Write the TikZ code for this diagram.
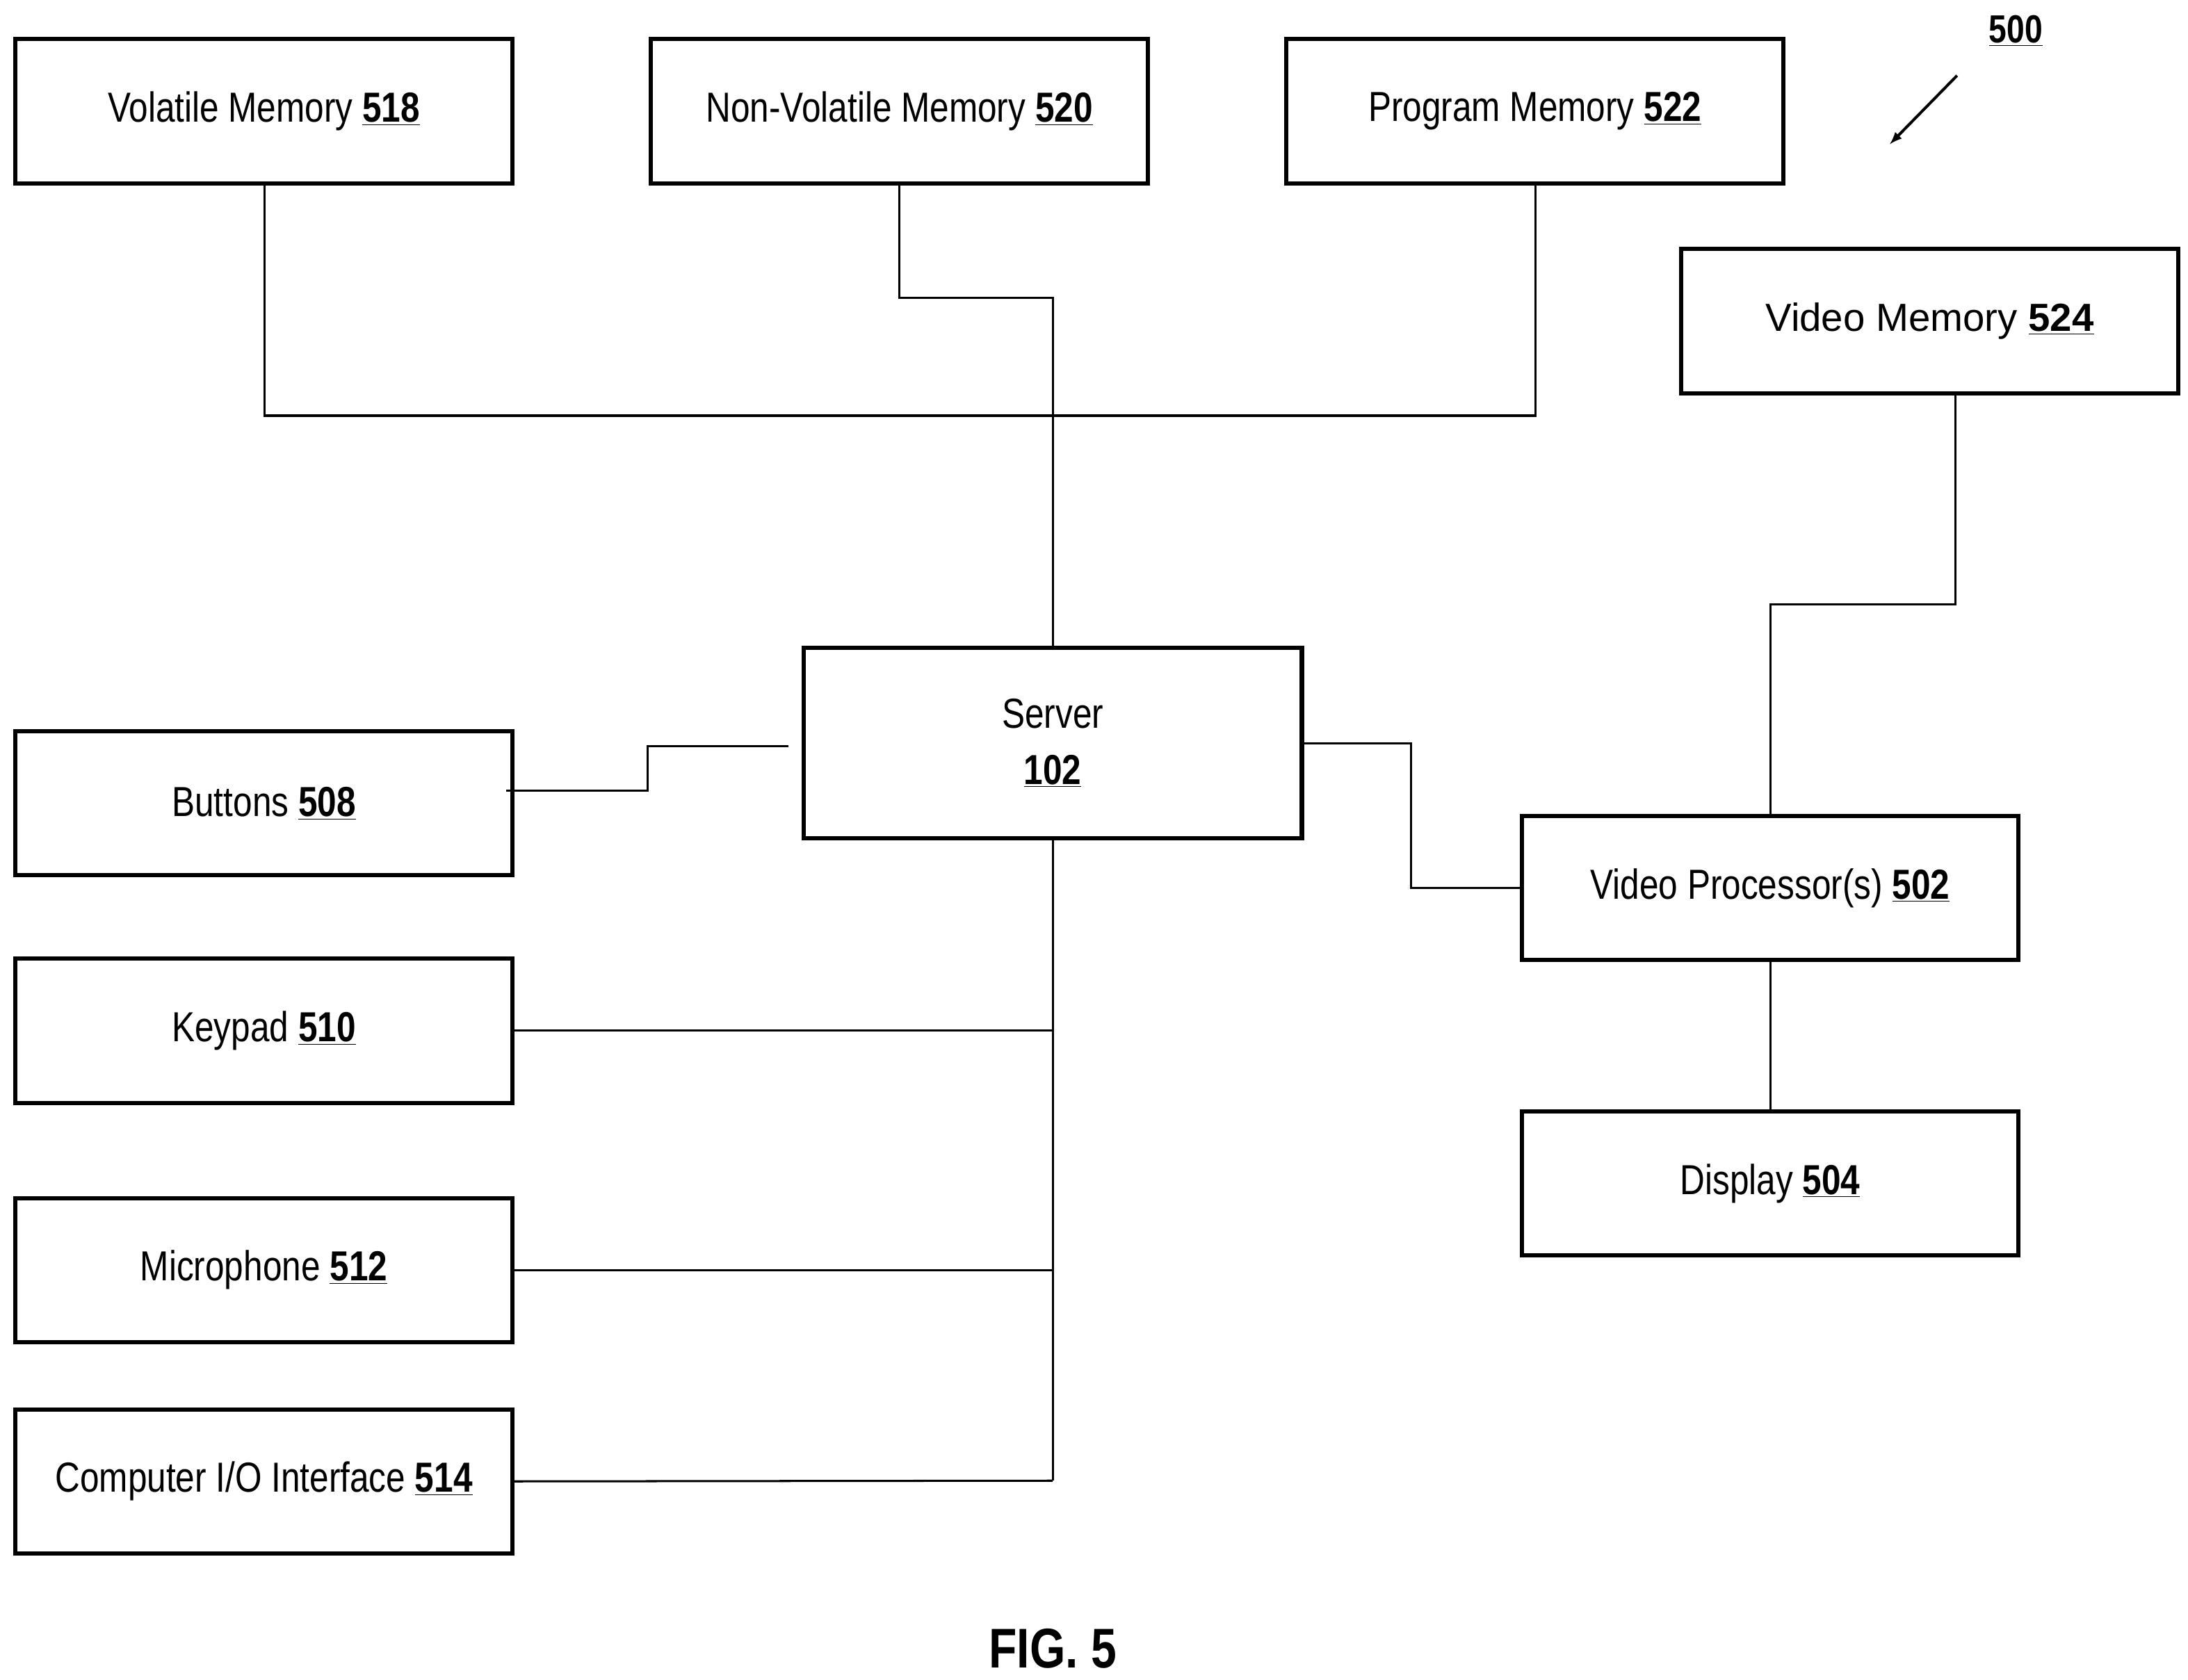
\documentclass[tikz,border=0pt]{standalone}
\usepackage{fontspec}
\setmainfont{Liberation Sans}
\begin{document}
\newcommand{\nr}[1]{\underline{\textbf{#1}}}
\newcommand{\cnd}[1]{\scalebox{0.82}[1]{#1}}
\begin{tikzpicture}[x=1pt,y=1pt,
  box/.style={draw,line width=3pt,minimum width=355pt,minimum height=103pt,inner sep=0pt,font=\fontsize{30}{36}\selectfont,align=center},
  wire/.style={line width=1.5pt}]
\useasboundingbox (0,0) rectangle (1563,-1200);
\node[box] (vol) at (188.5,-79.5) {\cnd{Volatile Memory \nr{518}}};
\node[box] (nvm) at (642.5,-79.5) {\cnd{Non-Volatile Memory \nr{520}}};
\node[box] (pgm) at (1096.5,-79.5) {\cnd{Program Memory \nr{522}}};
\node[box,font=\fontsize{28}{34}\selectfont] (vmem) at (1378.5,-229.5) {Video Memory \nr{524}};
\node[box,minimum width=356pt,minimum height=136pt] (srv) at (752,-531) {\cnd{Server}\\[4pt]\cnd{\nr{102}}};
\node[box] (btn) at (188.5,-574) {\cnd{Buttons \nr{508}}};
\node[box] (key) at (188.5,-736.5) {\cnd{Keypad \nr{510}}};
\node[box] (mic) at (188.5,-907.5) {\cnd{Microphone \nr{512}}};
\node[box] (cio) at (188.5,-1058.5) {\cnd{Computer I/O Interface \nr{514}}};
\node[box] (vp) at (1264.5,-634.5) {\cnd{Video Processor(s) \nr{502}}};
\node[box] (dsp) at (1264.5,-845.5) {\cnd{Display \nr{504}}};
\node[font=\fontsize{28}{34}\selectfont\bfseries] (lbl) at (1440,-22) {\cnd{\underline{500}}};
\node[font=\fontsize{40}{48}\selectfont\bfseries] (fig) at (752,-1178) {\cnd{FIG. 5}};
\coordinate (a1) at (1398,-54);
\coordinate (a2) at (1350,-103);
\draw[line width=2pt,-latex] (a1) -- (a2);
% memory bus
\coordinate (busL) at (189,-297);
\coordinate (busR) at (1097,-297);
\draw[wire] ([xshift=0.5pt]vol.south) |- (busR) -- ([xshift=0.5pt]pgm.south);
\coordinate (nv1) at (752,-213);
\draw[wire] (nvm.south) |- (nv1) -- (srv.north);
% buttons
\coordinate (bt1) at (563,-533);
\draw[wire] ([xshift=-6pt,yshift=9pt]btn.east) -- ++(101,0) |- (bt1);
% server down bus
\coordinate (sb) at (752,-1058);
\draw[wire] (srv.south) -- (sb);
\draw[wire] (key.east) -- (key.east -| srv.south);
\draw[wire] (mic.east) -- (mic.east -| srv.south);
\draw[wire] (cio.east) -- (sb);
% server to video proc
\coordinate (s1) at (1008,-531);
\draw[wire] (srv.east) -- (s1) |- (vp.west);
% video memory to vp
\coordinate (v1) at (1397,-432);
\draw[wire] (vmem.south -| v1) -- (v1) -| (vp.north);
\draw[wire] (vp.south) -- (dsp.north);
\end{tikzpicture}
\end{document}
